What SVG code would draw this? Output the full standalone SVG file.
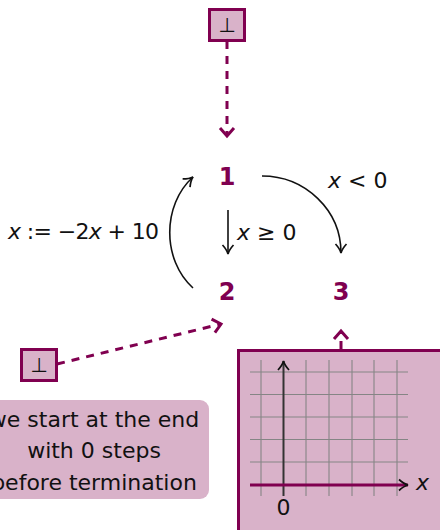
<svg xmlns="http://www.w3.org/2000/svg" width="440" height="530" viewBox="0 0 440 530">
<style>
.box{fill:#d9b2c9;stroke:#800050;stroke-width:3}
.num{font-family:"DejaVu Sans",sans-serif;font-weight:bold;font-size:24px;fill:#800050;text-anchor:middle}
.lbl{font-family:"DejaVu Sans",sans-serif;font-size:22px;fill:#111}
.bot{font-family:"DejaVu Sans",sans-serif;font-size:20px;fill:#111;text-anchor:middle}
.dash{fill:none;stroke:#800050;stroke-width:3;stroke-dasharray:8 7}
.arr{fill:none;stroke:#111;stroke-width:1.6}
.grid{stroke:#858585;stroke-width:1.1}
</style>
<defs>
<marker id="mh" markerUnits="userSpaceOnUse" orient="auto" markerWidth="20" markerHeight="20" viewBox="-10 -10 20 20" refX="0" refY="0" overflow="visible">
<path d="M-8,-7 L0,0 L-8,7" fill="none" stroke="#800050" stroke-width="3"/>
</marker>
<marker id="bh" markerUnits="userSpaceOnUse" orient="auto" markerWidth="20" markerHeight="20" viewBox="-10 -10 20 20" refX="0" refY="0" overflow="visible">
<path d="M-9,-5.5 Q-4,-1 0,0 Q-4,1 -9,5.5" fill="none" stroke="#111" stroke-width="1.7"/>
</marker>
</defs>

<g id="init-top">
<rect class="box" x="209.5" y="9.5" width="35" height="31"/>
<text class="bot" x="227" y="32">⊥</text>
</g>
<g id="init-left">
<rect class="box" x="21.5" y="349.5" width="35" height="31"/>
<text class="bot" x="39" y="372">⊥</text>
</g>
<g id="n1"><text class="num" x="227" y="185">1</text></g>
<g id="n2"><text class="num" x="227" y="300">2</text></g>
<g id="n3"><text class="num" x="341" y="300">3</text></g>

<g id="note">
<rect x="-20" y="400" width="229" height="99" rx="9" fill="#d9b2c9"/>
<text class="lbl" text-anchor="middle" x="94" y="427">we start at the end</text>
<text class="lbl" text-anchor="middle" x="94" y="458">with 0 steps</text>
<text class="lbl" text-anchor="middle" x="94" y="490">before termination</text>
</g>

<g id="plot">
<rect class="box" x="238.5" y="350.5" width="220" height="200"/>
<g class="grid">
<line x1="261" y1="360" x2="261" y2="496"/>
<line x1="306" y1="360" x2="306" y2="496"/>
<line x1="329" y1="360" x2="329" y2="496"/>
<line x1="352" y1="360" x2="352" y2="496"/>
<line x1="374" y1="360" x2="374" y2="496"/>
<line x1="397" y1="360" x2="397" y2="496"/>
<line x1="250" y1="372" x2="408" y2="372"/>
<line x1="250" y1="394.5" x2="408" y2="394.5"/>
<line x1="250" y1="417" x2="408" y2="417"/>
<line x1="250" y1="439.5" x2="408" y2="439.5"/>
<line x1="250" y1="462" x2="408" y2="462"/>
</g>
<line x1="283.5" y1="496" x2="283.5" y2="361" stroke="#333" stroke-width="2" marker-end="url(#bh)"/>
<line x1="250" y1="485" x2="408" y2="485" stroke="#800050" stroke-width="3" marker-end="url(#bh)"/>
<text class="lbl" x="416" y="490" font-style="italic" font-size="20">x</text>
<text class="lbl" x="283.5" y="515" text-anchor="middle" font-size="20">0</text>
</g>

<g id="connectors">
<line class="arr" x1="228" y1="210" x2="228" y2="254" marker-end="url(#bh)"/>
<path class="arr" d="M262,176 C305,176 341,210 341,253" marker-end="url(#bh)"/>
<path class="arr" d="M193,288 C162,260 162,205 193,177" marker-end="url(#bh)"/>
<line class="dash" x1="227" y1="41" x2="227" y2="136" marker-end="url(#mh)"/>
<line class="dash" x1="57" y1="364" x2="221" y2="324" marker-end="url(#mh)"/>
<line class="dash" x1="341" y1="349" x2="341" y2="331" marker-end="url(#mh)"/>
<text class="lbl" x="237" y="240"><tspan font-style="italic">x</tspan> ≥ 0</text>
<text class="lbl" x="328" y="188"><tspan font-style="italic">x</tspan> &lt; 0</text>
<text class="lbl" x="8" y="239" textLength="151" lengthAdjust="spacing"><tspan font-style="italic">x</tspan> := −2<tspan font-style="italic">x</tspan> + 10</text>
</g>
</svg>
